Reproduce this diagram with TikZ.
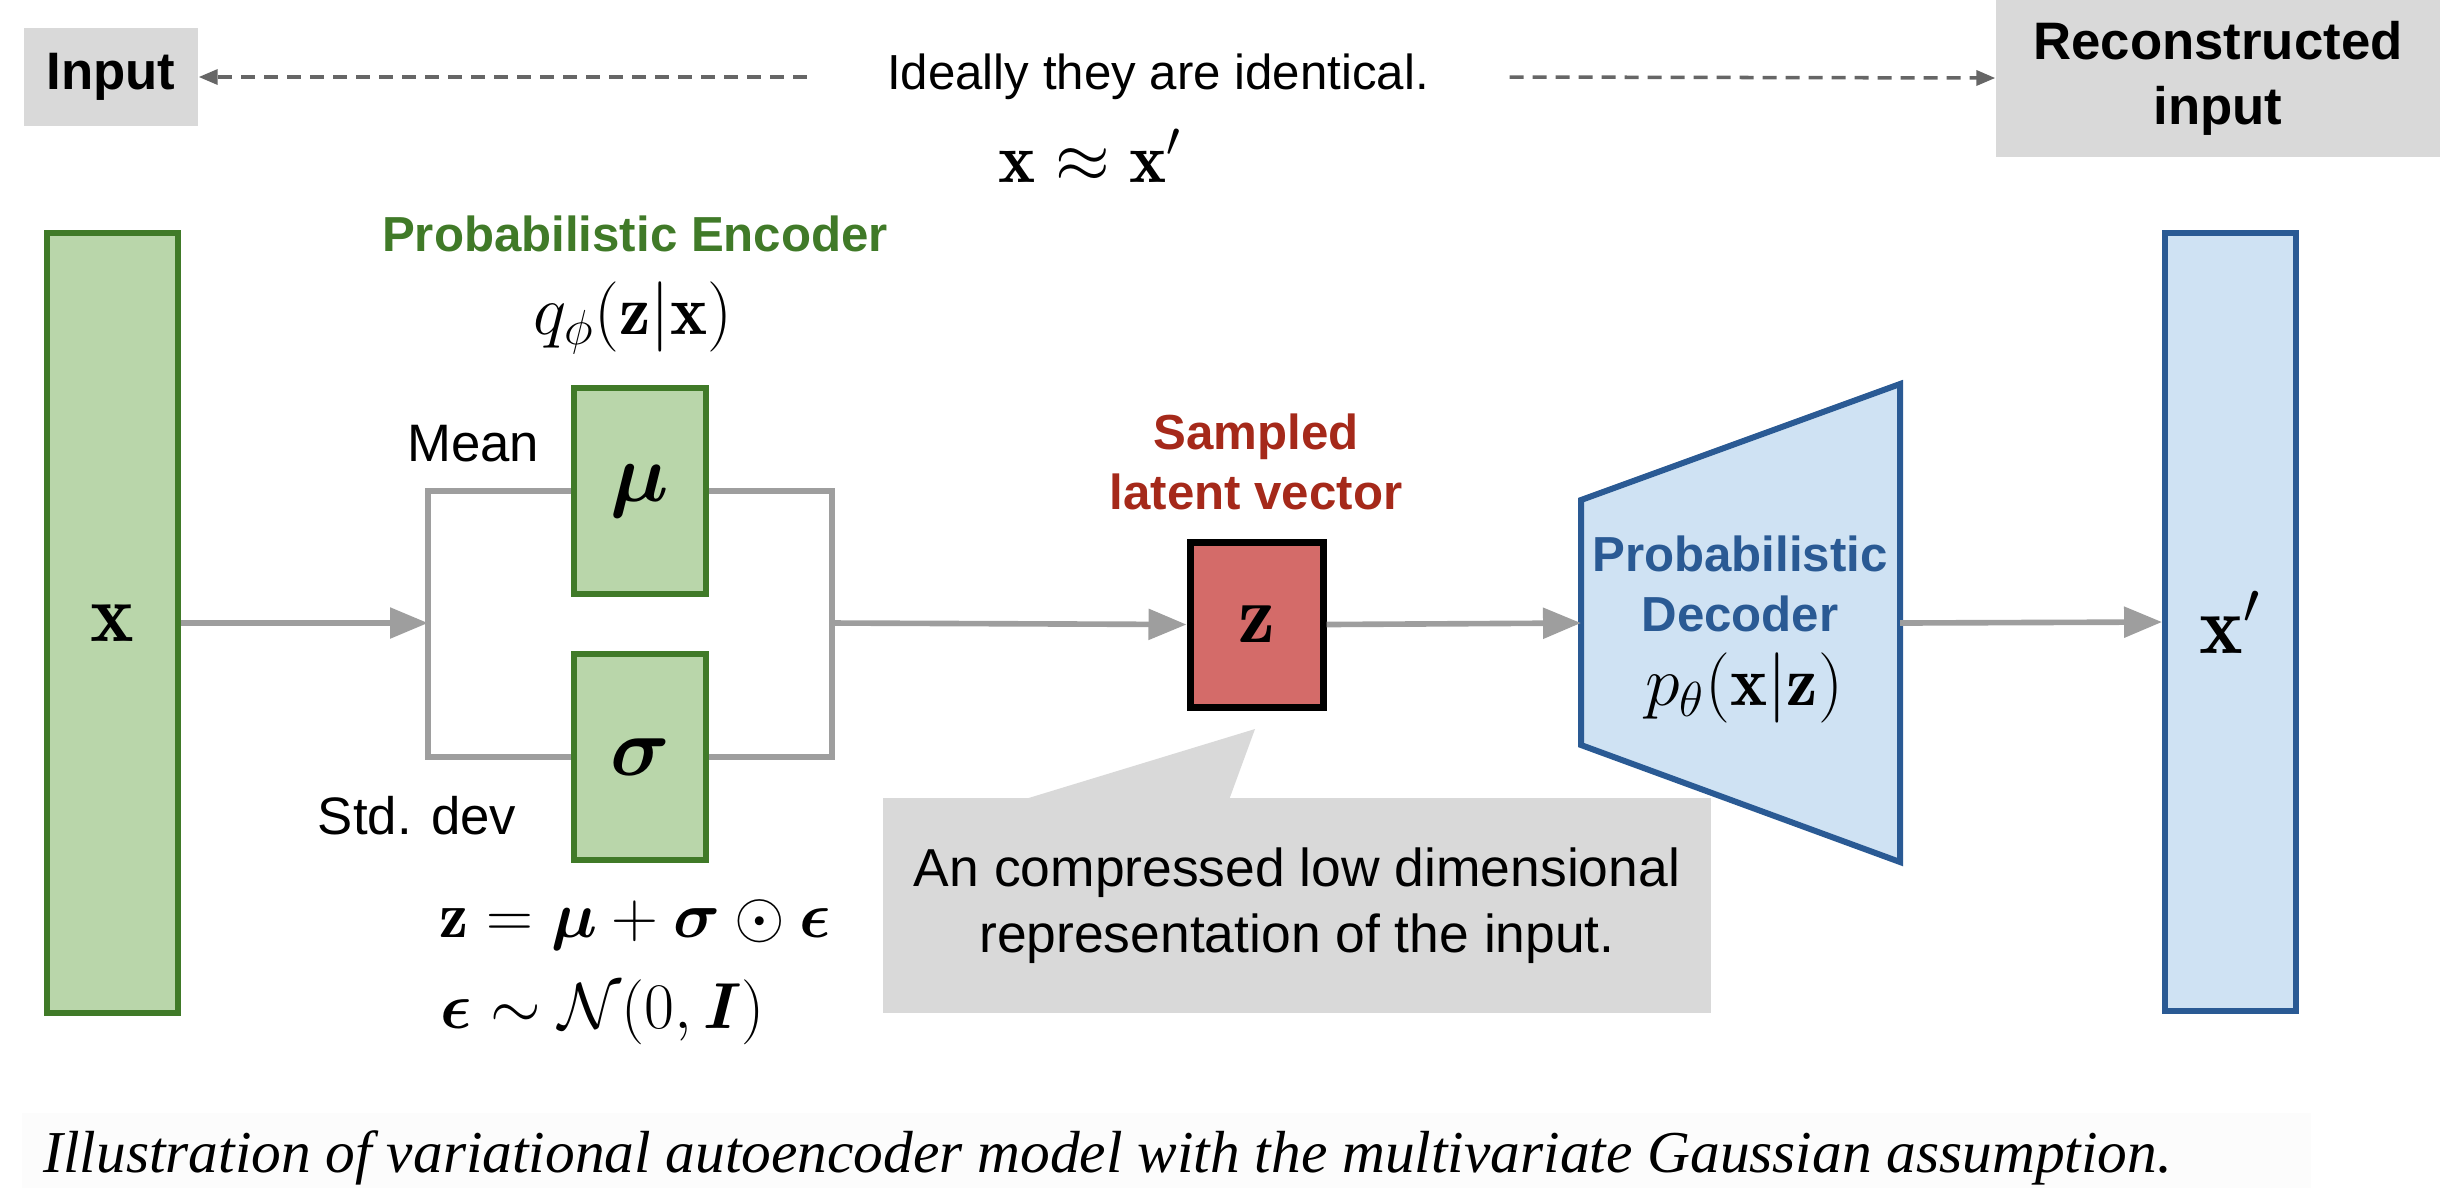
\RequirePackage{fix-cm}
\documentclass[tikz,border=0pt]{standalone}
\usepackage{fontspec}
\usepackage{bm}
\usetikzlibrary{arrows.meta}
\newfontfamily\lsans{Liberation Sans}
\newfontfamily\capserif{Liberation Serif}
\definecolor{boxgray}{HTML}{D9D9D9}
\definecolor{encfill}{HTML}{B9D6AA}
\definecolor{encline}{HTML}{407A28}
\definecolor{zfill}{HTML}{D46B69}
\definecolor{zlabel}{HTML}{A5291A}
\definecolor{decfill}{HTML}{CFE2F3}
\definecolor{decline}{HTML}{2A5A94}
\definecolor{wiregray}{HTML}{9E9E9E}
\definecolor{dashgray}{HTML}{666666}
\definecolor{capbg}{HTML}{FCFCFC}

\begin{document}
\begin{tikzpicture}[
	lab/.style={font=\lsans\fontsize{15}{18.5}\selectfont\bfseries},
	head/.style={font=\lsans\fontsize{14}{17}\selectfont\bfseries, inner sep=0},
	txt/.style={font=\lsans\fontsize{15}{18.8}\selectfont, inner sep=0},
	grn/.style={draw=encline, fill=encfill, line width=1.8pt},
	blu/.style={draw=decline, fill=decfill, line width=1.7pt},
	mth/.style={font=\fontsize{20}{23}\selectfont, inner sep=0},
	eqn/.style={font=\fontsize{18.5}{21}\selectfont, inner sep=0, anchor=west},
	boxmath/.style={font=\fontsize{23.5}{26}\selectfont},
	wire/.style={draw=wiregray, line width=1.6pt},
	conn/.style={wire, -{Triangle[length=0.38cm,width=0.3cm]}},
	idarrow/.style={draw=dashgray, line width=1pt, dash pattern=on 0.14cm off 0.09cm, -{Triangle[length=0.19cm,width=0.15cm]}}
]
	\useasboundingbox (0,0) rectangle (24.4,-11.88);

	\node[lab, fill=boxgray, minimum width=1.74cm, minimum height=0.98cm] (inp) at (1.11,-0.77) {Input};
	\node[lab, fill=boxgray, minimum width=4.44cm, minimum height=1.57cm, align=center] (rec) at (22.18,-0.78) {Reconstructed\\input};
	\node[txt, font=\lsans\fontsize{14}{17}\selectfont] (ideal) at (11.58,-0.77) {Ideally they are identical.};
	\node[mth] (approx) at (10.9,-1.56) {$\mathbf{x}\approx\mathbf{x}'$};
	\draw[idarrow] ([xshift=-0.8cm]ideal.west) -- (inp.east);
	\draw[idarrow] ([xshift=0.8cm]ideal.east) -- (rec.west);

	\node[grn, boxmath, minimum width=1.31cm, minimum height=7.8cm] (x) at (1.125,-6.23) {$\mathbf{x}$};
	\node[head, text=encline] (enc) at (6.35,-2.34) {Probabilistic Encoder};
	\node[mth] (qphi) at (6.33,-3.18) {$q_\phi(\mathbf{z}|\mathbf{x})$};
	\node[grn, boxmath, minimum width=1.32cm, minimum height=2.06cm] (mu) at (6.40,-4.91) {$\bm{\mu}$};
	\node[grn, boxmath, minimum width=1.32cm, minimum height=2.06cm] (sigma) at (6.40,-7.57) {$\bm{\sigma}$};
	\node[txt, anchor=east] (mean) at (5.40,-4.44) {Mean};
	\node[txt, anchor=east] (std) at (5.17,-8.16) {Std. dev};
	\node[eqn] (eq1) at (4.39,-9.25) {$\mathbf{z}=\bm{\mu}+\bm{\sigma}\odot\bm{\epsilon}$};
	\node[eqn] (eq2) at (4.40,-10.12) {$\bm{\epsilon}\sim\mathcal{N}(0,\bm{I})$};
	\coordinate (split) at (4.28,-6.23);
	\coordinate (join) at (8.32,-6.23);

	\node[draw=black, fill=zfill, line width=2pt, boxmath, minimum width=1.33cm, minimum height=1.65cm] (z) at (12.565,-6.245) {$\mathbf{z}$};
	\node[head, text=zlabel, align=center] (samp) at (12.56,-4.62) {Sampled\\latent vector};

	\draw[blu] (15.81,-5.00) -- (19.00,-3.84) -- (19.00,-8.62) -- (15.81,-7.45) -- cycle;
	\coordinate (decin) at (15.81,-6.23);
	\coordinate (decout) at (19.00,-6.23);
	\node[head, text=decline, align=center] (dec) at (17.40,-5.84) {Probabilistic\\Decoder};
	\node[mth] (pth) at (17.44,-6.88) {$p_\theta(\mathbf{x}|\mathbf{z})$};
	\node[blu, boxmath, minimum width=1.31cm, minimum height=7.78cm] (xp) at (22.305,-6.22) {$\mathbf{x}'$};

	\draw[wire] (mu.west) -| (split) |- (sigma.west);
	\draw[wire] (mu.east) -| (join) |- (sigma.east);
	\draw[conn] (x.east) -- (split);
	\draw[conn] (join) -- (z.west);
	\draw[conn] (z.east) -- (decin);
	\draw[conn] (decout) -- (xp.west);

	\fill[boxgray] (10.22,-8.0) -- (12.55,-7.29) -- (12.29,-8.0) -- cycle;
	\node[txt, fill=boxgray, font=\lsans\fontsize{15.2}{18.8}\selectfont, minimum width=8.28cm, minimum height=2.15cm, align=center] (note) at (12.97,-9.055) {An compressed low dimensional\\representation of the input.};

	\fill[capbg] (0.22,-11.13) rectangle (23.11,-11.88);
	\node[anchor=base west, inner sep=0, font=\capserif\itshape\fontsize{16.9}{20}\selectfont] (cap) at (0.43,-11.72) {Illustration of variational autoencoder model with the multivariate Gaussian assumption.};
\end{tikzpicture}
\end{document}
